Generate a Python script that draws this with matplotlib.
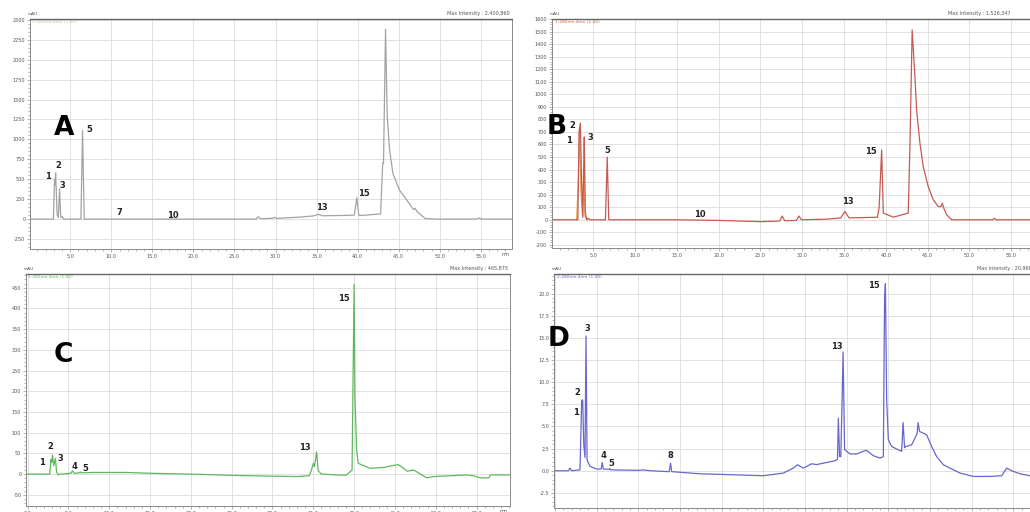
import matplotlib
matplotlib.use("Agg")
import matplotlib.pyplot as plt
from matplotlib.ticker import MultipleLocator, FormatStrFormatter, AutoMinorLocator

# ---------------- data (retention time in min, signal in mAU) ----------------
A_time = [0.0, 2.95, 3.08, 3.15, 3.22, 3.4, 3.55, 3.7, 3.85, 4.05, 4.12, 4.25, 6.3, 6.5, 6.7,
          20.0, 27.6, 27.9, 28.2, 29.6, 29.9, 30.2, 33.0, 34.6, 35.2, 35.7, 38.0, 39.6, 39.9,
          40.15, 41.0, 42.8, 43.05, 43.15, 43.4, 43.6, 43.9, 44.3, 45.1, 46.0, 46.8, 47.0,
          47.2, 48.2, 49.5, 54.5, 54.8, 55.1, 58.8]
A_signal = [0, 0, 500, 430, 580, 60, 20, 380, 20, 30, 10, 0, 0, 1110, 0,
            0, 0, 30, 5, 10, 20, 10, 25, 40, 60, 42, 45, 50, 270,
            45, 50, 65, 700, 700, 2380, 1300, 860, 571, 362, 237, 120, 135,
            100, 8, 0, 0, 15, 0, 0]

B_time = [0.0, 3.15, 3.3, 3.45, 3.6, 3.75, 3.85, 3.92, 4.05, 4.2, 4.4, 4.6, 6.45, 6.67, 6.85,
          15.0, 20.0, 25.0, 27.3, 27.6, 27.9, 29.3, 29.6, 29.9, 33.0, 34.6, 35.1, 35.6,
          39.0, 39.2, 39.5, 39.7, 40.9, 42.68, 42.9, 43.15, 43.48, 43.68, 44.08, 44.47,
          45.07, 45.67, 46.27, 46.6, 46.75, 46.95, 47.27, 47.87, 52.8, 53.0, 53.2, 60.0]
B_signal = [0, 0, 700, 770, 300, 20, 414, 660, 60, 0, 12, 0, 0, 500, 0,
            0, -5, -15, -10, 30, -8, -5, 30, 0, 5, 15, 66, 15,
            20, 100, 557, 53, 21, 53, 637, 1513, 1141, 876, 610, 424,
            265, 159, 106, 105, 133, 90, 40, 0, 0, 12, 0, 0]

B2_time = [3.0, 3.2, 3.35, 3.5, 3.7, 3.88, 4.0, 4.3]
B2_signal = [0, 300, 740, 250, 30, 414, 30, 0]

C_time = [-0.2, 2.7, 2.85, 2.95, 3.05, 3.2, 3.4, 3.55, 3.75, 4.0, 5.3, 5.5, 5.7, 6.3, 6.45,
          6.6, 8.0, 12.0, 15.0, 20.0, 25.0, 30.0, 33.0, 34.5, 34.75, 35.0, 35.15, 35.4,
          35.6, 36.0, 39.0, 39.75, 40.0, 40.1, 40.3, 40.5, 41.97, 43.6, 44.6, 45.4, 46.0,
          46.5, 47.3, 48.3, 48.9, 49.7, 53.8, 54.6, 55.5, 56.5, 56.7, 59.2]
C_signal = [0, 0, 35, 28, 46, 20, 38, 5, -2, 0, 2, 8, 2, 3, 5,
            3, 4, 4, 2, 0, -3, -5, -6, -4, 8, 26, 18, 54,
            8, 0, -3, 10, 458, 191, 60, 26, 14, 16, 20, 23, 15,
            7, 10, -2, -9, -6, -2, -4, -9, -9, -2, -2]

D_time = [-0.1, 1.6, 1.8, 2.0, 3.0, 3.2, 3.32, 3.45, 3.6, 3.72, 3.85, 4.2, 5.0, 5.55, 5.67,
          5.8, 6.5, 6.6, 6.7, 10.0, 10.6, 11.5, 13.7, 13.87, 14.0, 17.4, 21.4, 25.0, 27.4,
          28.6, 29.1, 29.8, 30.8, 31.4, 32.6, 33.6, 33.9, 34.0, 34.15, 34.3, 34.45, 34.57,
          34.75, 35.0, 35.4, 36.2, 37.0, 37.4, 38.2, 39.0, 39.4, 39.55, 39.65, 39.8, 40.0,
          40.4, 41.2, 41.6, 41.77, 41.95, 42.1, 42.8, 43.2, 43.45, 43.57, 43.75, 44.2,
          44.6, 45.2, 45.8, 46.6, 47.4, 48.6, 50.2, 52.2, 53.6, 54.2, 54.8, 55.8, 57.0, 60.0]
D_signal = [0.0, 0.0, 0.3, 0.0, 0.1, 7.9, 8.0, 3.0, 1.5, 15.2, 1.2, 0.5, 0.2, 0.2, 0.94,
            0.2, 0.15, 0.25, 0.1, 0.05, 0.1, 0.0, -0.1, 0.86, -0.1, -0.34, -0.45, -0.56, -0.26,
            0.3, 0.68, 0.3, 0.79, 0.7, 0.94, 1.13, 1.3, 5.93, 1.6, 1.6, 8.0, 13.4,
            2.4, 2.2, 1.9, 1.9, 2.2, 2.3, 1.7, 1.43, 1.6, 19.4, 21.1, 8.0, 3.5,
            2.74, 2.36, 2.2, 5.44, 2.6, 2.74, 2.93, 3.68, 4.2, 5.44, 4.43, 4.24,
            4.05, 2.74, 1.6, 0.68, 0.3, -0.26, -0.64, -0.64, -0.56, 0.3, 0.0, -0.34, -0.56, -0.6]

A_peaks = ["1", "2", "3", "5", "7", "10", "13", "15"]
B_peaks = ["2", "1", "3", "5", "10", "13", "15"]
C_peaks = ["1", "2", "3", "4", "5", "13", "15"]
D_peaks = ["3", "2", "1", "4", "5", "8", "13", "15"]

max_intensity = ["Max Intensity : 2,400,860", "Max Intensity : 1,526,347",
                 "Max Intensity : 465,875", "Max Intensity : 20,968"]
channel = ["1:280nm,4nm (1.00)", "1:280nm,4nm (1.00)", "1:280nm,4nm (1.00)", "2:280nm,4nm (1.00)"]

# ---------------- layout ----------------
W, H = 1030, 512
fig = plt.figure(figsize=(W / 100, H / 100), dpi=100)
fig.patch.set_facecolor("white")


def px_axes(left, top, right, bottom):
    return fig.add_axes([left / W, 1 - bottom / H, (right - left) / W, (bottom - top) / H])


panels = [
    dict(box=(30, 19, 512, 249), t=A_time, s=A_signal, color="#a3a3a3", xlim=(0.1, 58.8),
         ylim=(-375, 2510), ystep=250, yfmt="%d", letter="A", letter_xy=(4.3, 1143),
         peaks=A_peaks,
         peak_xy=[(2.3, 540), (3.5, 678), (4.1, 427), (7.3, 1130), (11.0, 88), (17.5, 50),
                  (35.7, 150), (40.8, 327)], chcolor="#c8c890", maxpos=(0.995, "right"),
         unit=True),
    dict(box=(552, 19, 1053, 248), t=B_time, s=B_signal, color="#c65a52", xlim=(0.06, 60.0),
         ylim=(-225, 1600), ystep=100, yfmt="%d", letter="B", letter_xy=(0.6, 743),
         peaks=B_peaks,
         peak_xy=[(2.5, 755), (2.1, 630), (4.7, 655), (6.7, 552), (17.7, 42), (35.4, 146),
                  (38.2, 544)], chcolor="#d06040", maxpos=(0.79, "left"), unit=False),
    dict(box=(26, 274, 510, 506), t=C_time, s=C_signal, color="#5fb85f", xlim=(-0.2, 59.1),
         ylim=(-77, 483), ystep=50, yfmt="%d", letter="C", letter_xy=(4.4, 287),
         peaks=C_peaks,
         peak_xy=[(1.74, 28), (2.84, 66), (4.07, 38), (5.7, 18), (7.1, 14), (34.0, 64),
                  (38.7, 424)], chcolor="#60b860", maxpos=(0.995, "right"), unit=True),
    dict(box=(554, 274, 1055, 508), t=D_time, s=D_signal, color="#6767cc", xlim=(-0.12, 60.0),
         ylim=(-4.2, 22.2), ystep=2.5, yfmt="%.1f", letter="D", letter_xy=(0.4, 14.9),
         peaks=D_peaks,
         peak_xy=[(3.92, 16.0), (2.72, 8.8), (2.48, 6.6), (5.8, 1.73), (6.7, 0.79), (13.87, 1.69),
                  (33.8, 14.0), (38.3, 20.9)], chcolor="#6767cc", maxpos=(0.844, "left"),
         unit=False),
]

for i, p in enumerate(panels):
    ax = px_axes(*p["box"])
    ax.set_xlim(*p["xlim"])
    ax.set_ylim(*p["ylim"])
    ax.xaxis.set_major_locator(MultipleLocator(5))
    ax.xaxis.set_minor_locator(MultipleLocator(1))
    ax.xaxis.set_major_formatter(FormatStrFormatter("%.1f"))
    ax.yaxis.set_major_locator(MultipleLocator(p["ystep"]))
    ax.yaxis.set_minor_locator(AutoMinorLocator(5))
    ax.yaxis.set_major_formatter(FormatStrFormatter(p["yfmt"]))
    ax.grid(True, which="major", color="#dcdcdc", linewidth=0.6)
    ax.set_axisbelow(True)
    ax.tick_params(which="both", labelsize=3.5, labelcolor="#555555", color="#777777",
                   width=0.4, pad=1.2)
    ax.tick_params(which="major", length=2.2)
    ax.tick_params(which="minor", length=1.2)
    for sp in ax.spines.values():
        sp.set_color("#8a8a8a")
        sp.set_linewidth(0.7)
    ax.spines["top"].set_color("#666666")
    ax.spines["top"].set_linewidth(1.0)

    if i == 1:
        ax.plot(B2_time, B2_signal, color="#e8a048", linewidth=0.8)
    ax.plot(p["t"], p["s"], color=p["color"], linewidth=0.9)

    ax.text(p["letter_xy"][0], p["letter_xy"][1], p["letter"], fontsize=19, fontweight="bold",
            color="black", ha="center", va="center", zorder=5)
    for lab, (x, y) in zip(p["peaks"], p["peak_xy"]):
        ax.text(x, y, lab, fontsize=6, fontweight="bold", color="#222222",
                ha="center", va="center", zorder=5)

    ax.text(0.005, 0.995, channel[i], transform=ax.transAxes, fontsize=3.2,
            color=p["chcolor"], ha="left", va="top")
    ax.text(-0.005, 1.012, "mAU", transform=ax.transAxes, fontsize=3.2, color="#555555",
            ha="left", va="bottom")
    mx, mha = p["maxpos"]
    ax.text(mx, 1.012, max_intensity[i], transform=ax.transAxes,
            fontsize=3.5, color="#555555", ha=mha, va="bottom")
    if p["unit"]:
        ax.text(0.995, -0.012, "mn", transform=ax.transAxes, fontsize=3.5, color="#555555",
                ha="right", va="top")

fig.savefig("out.png", dpi=100)
